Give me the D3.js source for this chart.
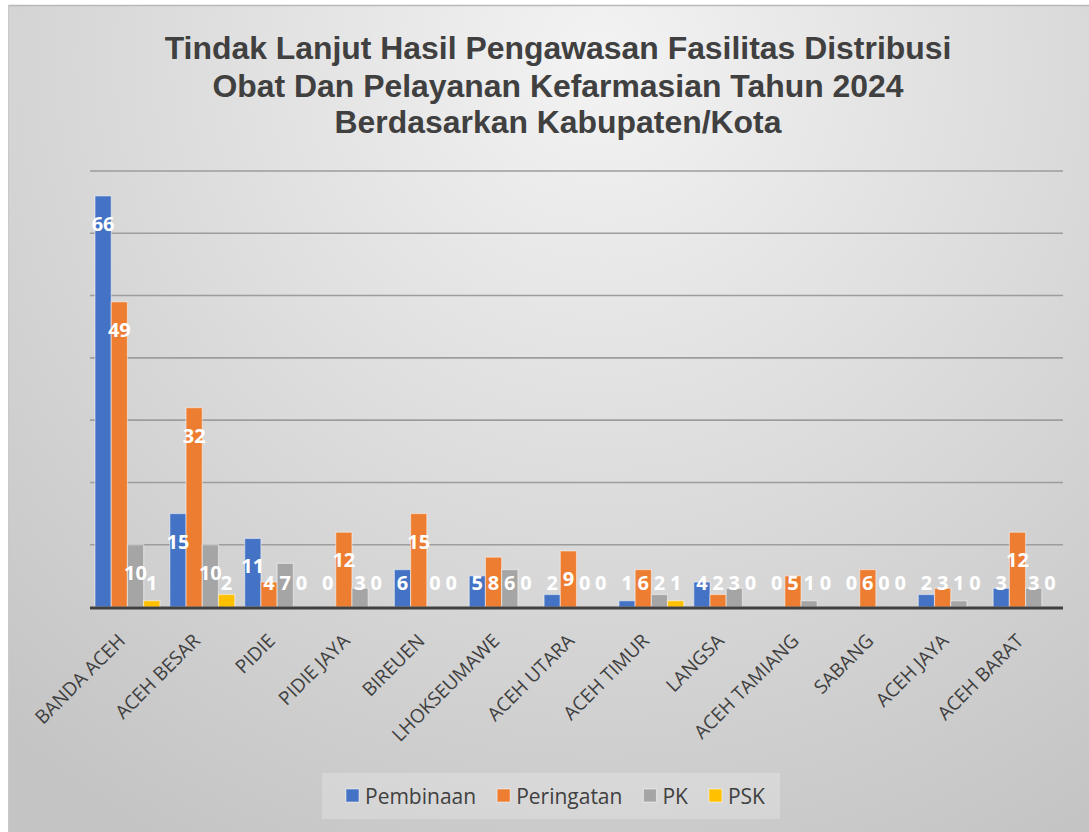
<!DOCTYPE html>
<html>
<head>
<meta charset="utf-8">
<script src="https://cdn.jsdelivr.net/npm/d3@7"></script>
<style>
  html, body { margin: 0; padding: 0; background: #ffffff; }
  svg { display: block; }
</style>
</head>
<body>
<div id="chart"></div>
<script>
// ---- data ----
const categories = ["BANDA ACEH", "ACEH BESAR", "PIDIE", "PIDIE JAYA", "BIREUEN", "LHOKSEUMAWE",
  "ACEH UTARA", "ACEH TIMUR", "LANGSA", "ACEH TAMIANG", "SABANG", "ACEH JAYA", "ACEH BARAT"];
const seriesNames = ["Pembinaan", "Peringatan", "PK", "PSK"];
const pembinaan  = [66, 15, 11, 0, 6, 5, 2, 1, 4, 0, 0, 2, 3];
const peringatan = [49, 32, 4, 12, 15, 8, 9, 6, 2, 5, 6, 3, 12];
const pk         = [10, 10, 7, 3, 0, 6, 0, 2, 3, 1, 0, 1, 3];
const psk        = [1, 2, 0, 0, 0, 0, 0, 1, 0, 0, 0, 0, 0];
const yTicks     = [10, 20, 30, 40, 50, 60, 70];
const titleLines = ["Tindak Lanjut Hasil Pengawasan Fasilitas Distribusi",
  "Obat Dan Pelayanan Kefarmasian Tahun 2024",
  "Berdasarkan Kabupaten/Kota"];

const seriesValues = [pembinaan, peringatan, pk, psk];
const colors = ["#4472C4", "#ED7D31", "#A5A5A5", "#FFC000"];

const W = 1089, H = 832;
const svg = d3.select("#chart").append("svg").attr("width", W).attr("height", H);

// background
const defs = svg.append("defs");
const grad = defs.append("radialGradient").attr("id", "bg")
  .attr("gradientUnits", "userSpaceOnUse")
  .attr("cx", 600).attr("cy", 60).attr("r", 900);
grad.append("stop").attr("offset", "0%").attr("stop-color", "#f3f3f3");
grad.append("stop").attr("offset", "55%").attr("stop-color", "#d9d9d9");
grad.append("stop").attr("offset", "100%").attr("stop-color", "#c4c4c4");

svg.append("rect").attr("x", 8).attr("y", 5).attr("width", W - 8).attr("height", H - 5)
  .attr("fill", "url(#bg)");
svg.append("line").attr("x1", 8).attr("x2", W).attr("y1", 5.5).attr("y2", 5.5)
  .attr("stroke", "#b9b9b9").attr("stroke-width", 1.5);
svg.append("line").attr("x1", 8.5).attr("x2", 8.5).attr("y1", 5).attr("y2", H)
  .attr("stroke", "#c9c9c9").attr("stroke-width", 1);

// scales
const plot = { left: 90, right: 1063, top: 171, bottom: 607 };
const x0 = d3.scaleBand().domain(categories).range([plot.left, plot.right]).padding(0);
const x1 = d3.scaleBand().domain(seriesNames).range([5, x0.bandwidth() - 5]).padding(0);
const y = d3.scaleLinear().domain([0, 70]).range([plot.bottom, plot.top]);

// gridlines
svg.append("g").selectAll("line").data(yTicks).join("line")
  .attr("x1", plot.left).attr("x2", plot.right)
  .attr("y1", d => y(d)).attr("y2", d => y(d))
  .attr("stroke", "#9d9d9d").attr("stroke-width", 1.6);

// bars
const rows = [];
categories.forEach((c, i) => {
  seriesNames.forEach((s, j) => rows.push({ cat: c, ser: s, j, v: seriesValues[j][i] }));
});

svg.append("g").selectAll("rect").data(rows.filter(d => d.v > 0)).join("rect")
  .attr("x", d => x0(d.cat) + x1(d.ser))
  .attr("y", d => y(d.v))
  .attr("width", x1.bandwidth())
  .attr("height", d => y(0) - y(d.v))
  .attr("fill", d => colors[d.j])
  .attr("stroke", "rgba(255,255,255,0.45)")
  .attr("stroke-width", 1.2);

// axis line
svg.append("line").attr("x1", plot.left).attr("x2", plot.right)
  .attr("y1", y(0) + 1).attr("y2", y(0) + 1)
  .attr("stroke", "#404040").attr("stroke-width", 3);

// data labels
svg.append("g").selectAll("text").data(rows).join("text")
  .attr("x", d => x0(d.cat) + x1(d.ser) + x1.bandwidth() / 2)
  .attr("y", d => Math.min(y(d.v) + 35, y(0) - 17))
  .attr("text-anchor", "middle")
  .attr("font-family", "'Open Sans', sans-serif")
  .attr("font-weight", 700)
  .attr("font-size", 20)
  .attr("fill", "#ffffff")
  .text(d => d.v);

// category labels
svg.append("g").selectAll("text").data(categories).join("text")
  .attr("transform", d => `translate(${x0(d) + x0.bandwidth() / 2 - 1},642) rotate(-45)`)
  .attr("text-anchor", "end")
  .attr("font-family", "'Open Sans', sans-serif")
  .attr("font-size", 19)
  .attr("fill", "#404040")
  .text(d => d);

// title
const titleG = svg.append("g");
const baselines = [59, 97, 133];
const tl = titleG.selectAll("text").data(titleLines).join("text")
  .attr("text-anchor", "middle")
  .attr("font-family", "'Liberation Sans', Arial, sans-serif")
  .attr("font-weight", 700)
  .attr("font-size", 31)
  .attr("fill", "#404040")
  .text(d => d);
const w0 = tl.nodes()[0].getComputedTextLength();
const sx = 787 / w0;
tl.attr("transform", (d, i) => `translate(558,${baselines[i]}) scale(${sx},1)`);

// legend
const legend = svg.append("g");
legend.append("rect").attr("x", 322).attr("y", 773).attr("width", 458).attr("height", 46)
  .attr("fill", "rgba(255,255,255,0.22)");
let lx = 346;
seriesNames.forEach((s, j) => {
  legend.append("rect").attr("x", lx).attr("y", 789).attr("width", 13).attr("height", 13)
    .attr("fill", colors[j]).attr("stroke", "rgba(255,255,255,0.5)").attr("stroke-width", 1);
  const t = legend.append("text").attr("x", lx + 19).attr("y", 804)
    .attr("font-family", "'Open Sans', sans-serif")
    .attr("font-size", 21)
    .attr("fill", "#404040")
    .text(s);
  lx = lx + 19 + t.node().getComputedTextLength() + 21;
});
</script>
</body>
</html>
